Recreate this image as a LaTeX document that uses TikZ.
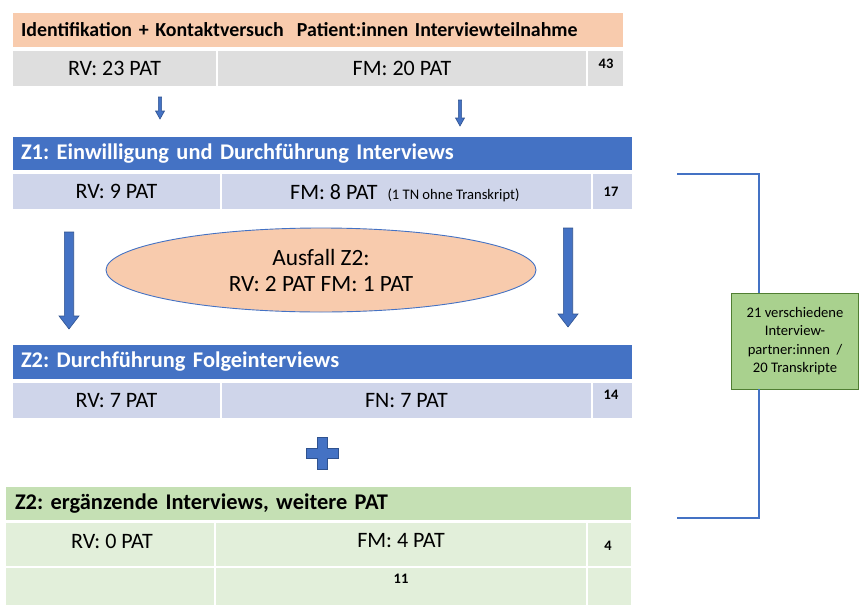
\documentclass[tikz,border=0pt]{standalone}
\usepackage{fontspec}
\setmainfont{Carlito}
\frenchspacing
\usetikzlibrary{shapes.geometric}
\definecolor{cOrange}{HTML}{F8CBAD}
\definecolor{cGray}{HTML}{DEDEDE}
\definecolor{cBlue}{HTML}{4472C4}
\definecolor{cBlueDark}{HTML}{2F528F}
\definecolor{cBlueL}{HTML}{CFD5EA}
\definecolor{cGreen}{HTML}{C5E0B4}
\definecolor{cGreenL}{HTML}{E2EFDA}
\definecolor{cBoxG}{HTML}{A9D18E}
\definecolor{cBoxGB}{HTML}{507E32}
% downward block arrow: x, y top, y bottom, shaft half width, head half width, head length
\newcommand{\DownBlockArrow}[6]{%
  \filldraw[blockarr] (#1-#4,#2) -- (#1+#4,#2) -- (#1+#4,#3-#6) -- (#1+#5,#3-#6)
    -- (#1,#3) -- (#1-#5,#3-#6) -- (#1-#4,#3-#6) -- cycle;}
\begin{document}
\begin{tikzpicture}[x=1pt,y=-1pt,
  hdr/.style={rectangle, inner xsep=8pt, inner ysep=0pt, align=left,
    font=\bfseries\fontsize{22.4}{25}\selectfont},
  cell/.style={rectangle, inner sep=0pt},
  celltxt/.style={inner sep=0pt, font=\fontsize{22}{26}\selectfont},
  numtxt/.style={inner sep=0pt, font=\bfseries\fontsize{14.5}{16}\selectfont},
  blockarr/.style={fill=cBlue, draw=cBlueDark, line width=0.6pt},
  brk/.style={draw=cBlue, line width=1.1pt}]
\useasboundingbox (0,0) rectangle (859,605);

% ---- identification stage
\node[hdr, fill=cOrange, minimum width=610pt, minimum height=34pt, text width=594pt,
  font=\bfseries\fontsize{19.9}{22}\selectfont] (h0) at (318,30) {Identifikation + Kontaktversuch\ \ Patient:innen Interviewteilnahme};
\node[cell, fill=cGray, minimum width=203pt, minimum height=35pt] (r0a) at (114.5,68.5) {};
\node[cell, fill=cGray, minimum width=368pt, minimum height=35pt] (r0b) at (402,68.5) {};
\node[cell, fill=cGray, minimum width=35pt, minimum height=35pt] (r0c) at (605.5,68.5) {};
\node[celltxt] (t0a) at (r0a) {RV: 23 PAT};
\node[celltxt] (t0b) at (r0b) {FM: 20 PAT};
\node[numtxt] (n0) at (606,63.5) {43};

% small arrows
\DownBlockArrow{160}{97}{119}{1.6}{4.5}{8}
\DownBlockArrow{460}{100}{126}{1.6}{4.5}{8}

% ---- Z1
\node[hdr, fill=cBlue, text=white, minimum width=619pt, minimum height=33pt, text width=603pt] (h1) at (322.5,153.5) {Z1: Einwilligung und Durchführung Interviews};
\node[cell, fill=cBlueL, minimum width=207pt, minimum height=35pt] (r1a) at (116.5,191.5) {};
\node[cell, fill=cBlueL, minimum width=369pt, minimum height=35pt] (r1b) at (406.5,191.5) {};
\node[cell, fill=cBlueL, minimum width=39pt, minimum height=35pt] (r1c) at (612.5,191.5) {};
\node[celltxt] (t1a) at (r1a) {RV: 9 PAT};
\node[celltxt, anchor=base west] (t1b) at (290,199.5) {FM: 8 PAT\ \ {\fontsize{14.6}{16}\selectfont (1 TN ohne Transkript)}};
\node[numtxt] (n1) at (611,192) {17};

% big arrows and drop-out ellipse
\DownBlockArrow{69}{232}{329}{4.7}{10}{13}
\DownBlockArrow{568}{228}{327}{4.7}{10}{13}
\node[ellipse, fill=cOrange, draw=cBlue, line width=0.9pt, minimum width=430pt, minimum height=84pt,
  inner sep=0pt, align=center, font=\fontsize{23.3}{26}\selectfont] (aus) at (321,270) {Ausfall Z2:\\RV: 2 PAT FM: 1 PAT};

% ---- Z2
\node[hdr, fill=cBlue, text=white, minimum width=619pt, minimum height=34pt, text width=603pt] (h2) at (322.5,362) {Z2: Durchführung Folgeinterviews};
\node[cell, fill=cBlueL, minimum width=207pt, minimum height=35pt] (r2a) at (116.5,400.5) {};
\node[cell, fill=cBlueL, minimum width=369pt, minimum height=35pt] (r2b) at (406.5,400.5) {};
\node[cell, fill=cBlueL, minimum width=39pt, minimum height=35pt] (r2c) at (612.5,400.5) {};
\node[celltxt] (t2a) at (r2a) {RV: 7 PAT};
\node[celltxt] (t2b) at (r2b) {FN: 7 PAT};
\node[numtxt] (n2) at (611,395) {14};

% plus sign
\filldraw[blockarr] (317,437) -- (327,437) -- (327,448) -- (338,448) -- (338,458) -- (327,458)
  -- (327,469) -- (317,469) -- (317,458) -- (306,458) -- (306,448) -- (317,448) -- cycle;

% ---- Z2 additional interviews
\node[hdr, fill=cGreen, minimum width=625pt, minimum height=33pt, text width=607pt, inner xsep=9pt] (h3) at (318.5,503.5) {Z2: ergänzende Interviews, weitere PAT};
\node[cell, fill=cGreenL, minimum width=208pt, minimum height=43pt] (r3a) at (110,544.5) {};
\node[cell, fill=cGreenL, minimum width=370pt, minimum height=43pt] (r3b) at (401,544.5) {};
\node[cell, fill=cGreenL, minimum width=43pt, minimum height=43pt] (r3c) at (609.5,544.5) {};
\node[cell, fill=cGreenL, minimum width=208pt, minimum height=37pt] (r4a) at (110,586.5) {};
\node[cell, fill=cGreenL, minimum width=370pt, minimum height=37pt] (r4b) at (401,586.5) {};
\node[cell, fill=cGreenL, minimum width=43pt, minimum height=37pt] (r4c) at (609.5,586.5) {};
\node[celltxt] (t3a) at (112,541) {RV: 0 PAT};
\node[celltxt] (t3b) at (401,541) {FM: 4 PAT};
\node[numtxt] (n3) at (608,546) {4};
\node[numtxt] (n4) at (401,579) {11};

% ---- bracket with summary
\node[rectangle, fill=cBoxG, draw=cBoxGB, line width=0.9pt, minimum width=127pt, minimum height=96pt,
  inner sep=0pt, align=center, font=\fontsize{14.6}{18.3}\selectfont] (sum) at (795,341)
  {21 verschiedene\\Interview-\\partner:innen\ \ /\\20 Transkripte};
\coordinate (bTopL) at (677,174);
\coordinate (bTopR) at (759,174);
\coordinate (bBotL) at (677,518);
\coordinate (bBotR) at (759,518);
\draw[brk] (bTopL) -- (bTopR) -- (bTopR |- sum.north);
\draw[brk] (bBotR |- sum.south) -- (bBotR) -- (bBotL);
\end{tikzpicture}
\end{document}
